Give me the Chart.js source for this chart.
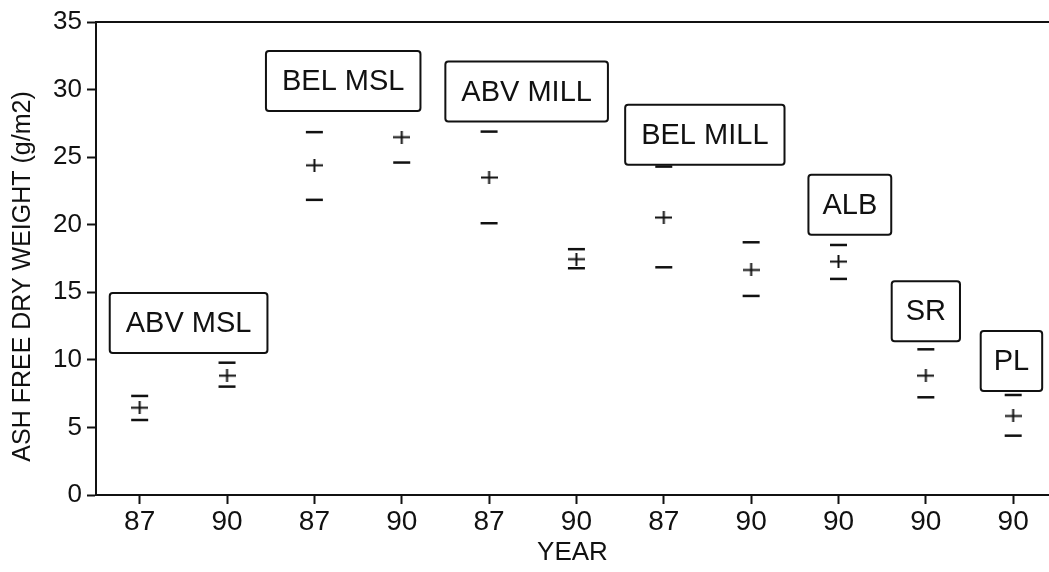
<!DOCTYPE html>
<html>
<head>
<meta charset="utf-8">
<script src="https://cdn.jsdelivr.net/npm/chart.js@4/dist/chart.umd.min.js"></script>
<style>
	body { margin: 0; background: #fff; }
	canvas { display: block; }
</style>
</head>
<body>
<canvas id="afdwChart" width="1049" height="572"></canvas>
<script>
const years = ['87', '90', '87', '90', '87', '90', '87', '90', '90', '90', '90'];
const meanVals = [6.46, 8.83, 24.4, 26.48, 23.49, 17.45, 20.53, 16.65, 17.27, 8.83, 5.85];
const upperVals = [7.33, 9.79, 26.85, 28.6, 26.89, 18.19, 24.3, 18.7, 18.5, 10.78, 7.4];
const lowerVals = [5.55, 8.02, 21.84, 24.6, 20.11, 16.78, 16.85, 14.73, 15.99, 7.23, 4.39];
const yTicks = [0, 5, 10, 15, 20, 25, 30, 35];

const sites = ['ABV MSL', 'BEL MSL', 'ABV MILL', 'BEL MILL', 'ALB', 'SR', 'PL'];
const siteX = [0.56, 2.33, 4.43, 6.47, 8.13, 9.0, 9.98];
const siteY = [12.73, 30.63, 29.85, 26.65, 21.47, 13.6, 9.92];
const sitePad = [16, 16, 16, 16, 14, 14, 13];

const ink = '#111';
const fontFam = '"Liberation Sans", Arial, Helvetica, sans-serif';

function makePlus() {
	const c = document.createElement('canvas');
	c.width = 17;
	c.height = 13;
	const g = c.getContext('2d');
	g.strokeStyle = ink;
	g.lineWidth = 2;
	g.beginPath();
	g.moveTo(0, 6.5); g.lineTo(17, 6.5);
	g.moveTo(8.5, 0); g.lineTo(8.5, 13);
	g.stroke();
	return c;
}
const plusMark = makePlus();

function toPoints(vals) {
	return vals.map((v, i) => { return { x: i, y: v } });
}

// boxes with site names, top border line and the y title
const sitePlugin = {
	id: 'sitePlugin',
	afterDatasetsDraw(chart) {
		const { ctx, chartArea } = chart;
		const xs = chart.scales.x, ys = chart.scales.y;
		ctx.save();
		ctx.strokeStyle = ink;
		ctx.lineWidth = 2;
		ctx.beginPath();
		ctx.moveTo(chartArea.left, chartArea.top);
		ctx.lineTo(chartArea.right, chartArea.top);
		ctx.stroke();

		ctx.font = '29px ' + fontFam;
		ctx.textAlign = 'center';
		ctx.textBaseline = 'middle';
		sites.forEach((name, i) => {
			const cx = xs.getPixelForValue(siteX[i]);
			const cy = ys.getPixelForValue(siteY[i]);
			const w = ctx.measureText(name).width + sitePad[i] * 2;
			const h = 60;
			ctx.beginPath();
			ctx.roundRect(cx - w / 2, cy - h / 2, w, h, 3);
			ctx.fillStyle = '#fff';
			ctx.fill();
			ctx.lineWidth = 2;
			ctx.stroke();
			ctx.fillStyle = ink;
			ctx.fillText(name, cx, cy + 1);
		});

		ctx.translate(23, (chartArea.top + chartArea.bottom) / 2 + 18);
		ctx.rotate(-Math.PI / 2);
		ctx.font = '25px ' + fontFam;
		ctx.fillText('ASH FREE DRY WEIGHT (g/m2)', 0, 0);
		ctx.restore();
	}
};

const chartEle = document.getElementById('afdwChart');
var afdwChart = new Chart(chartEle, {
	type: 'scatter',
	data: {
		datasets: [{
			label: 'upper',
			data: toPoints(upperVals),
			pointStyle: 'line',
			radius: 8.5,
			borderColor: ink,
			borderWidth: 2.5
		}, {
			label: 'mean',
			data: toPoints(meanVals),
			pointStyle: plusMark,
			borderColor: ink
		}, {
			label: 'lower',
			data: toPoints(lowerVals),
			pointStyle: 'line',
			radius: 8.5,
			borderColor: ink,
			borderWidth: 2.5
		}]
	},
	options: {
		responsive: false,
		animation: false,
		layout: { autoPadding: false, padding: { top: 22, right: 0, left: 0, bottom: 0 } },
		plugins: {
			legend: { display: false },
			tooltip: { enabled: false }
		},
		scales: {
			x: {
				type: 'linear',
				min: -0.5,
				max: 10.41,
				afterBuildTicks: s => { s.ticks = years.map((_, i) => { return { value: i } }) },
				afterFit: s => { s.height = 77; s.paddingLeft = 0; s.paddingRight = 0 },
				ticks: {
					callback: v => years[v],
					color: ink,
					font: { size: 28, family: fontFam },
					padding: 1,
					maxRotation: 0
				},
				grid: { drawOnChartArea: false, tickLength: 9, tickColor: ink, tickWidth: 2 },
				border: { color: ink, width: 2 },
				title: {
					display: true,
					text: 'YEAR',
					color: ink,
					font: { size: 26, family: fontFam },
					padding: { top: 0, bottom: 4 }
				}
			},
			y: {
				min: 0,
				max: 35,
				afterBuildTicks: s => { s.ticks = yTicks.map(v => { return { value: v } }) },
				afterFit: s => { s.width = 96 },
				ticks: {
					color: ink,
					font: { size: 26, family: fontFam },
					padding: 5
				},
				grid: { drawOnChartArea: false, tickLength: 9, tickColor: ink, tickWidth: 2 },
				border: { color: ink, width: 2 }
			}
		}
	},
	plugins: [sitePlugin]
});
</script>
</body>
</html>
